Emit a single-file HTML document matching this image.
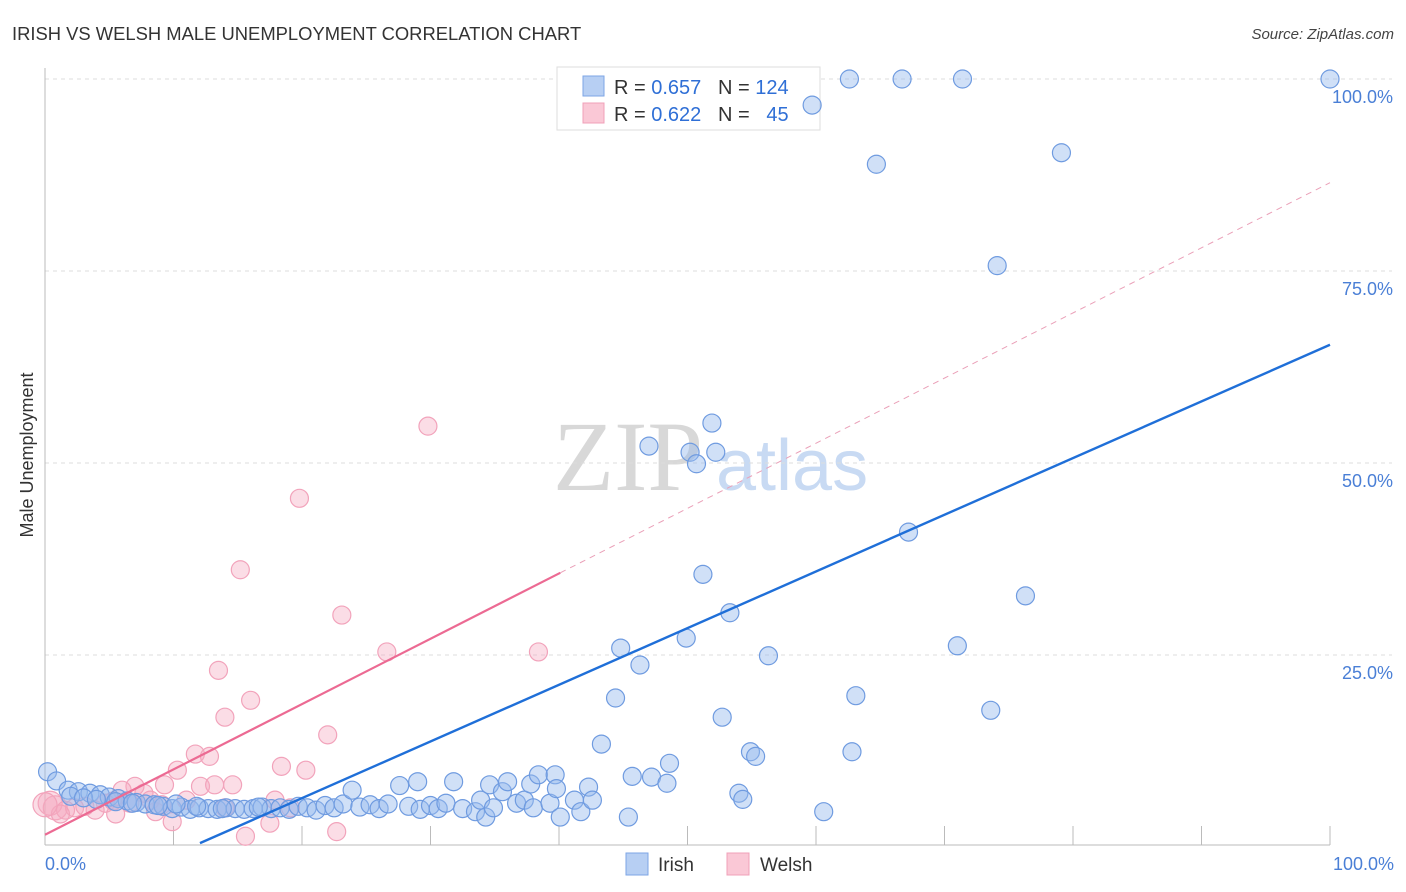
<!DOCTYPE html>
<html><head><meta charset="utf-8"><style>
body{margin:0;background:#fff;font-family:"Liberation Sans",sans-serif}
svg{display:block}
</style></head><body>
<svg id="chart" width="1406" height="892" viewBox="0 0 1406 892" xmlns="http://www.w3.org/2000/svg">
<text x="12" y="40" font-size="18.4" fill="#333">IRISH VS WELSH MALE UNEMPLOYMENT CORRELATION CHART</text>
<text x="1394" y="39" font-size="15" font-style="italic" fill="#444" text-anchor="end">Source: ZipAtlas.com</text>
<g>
<text x="553" y="490" font-family="Liberation Serif,serif" font-size="100" fill="#d8d8d8">ZIP</text>
<text x="716" y="490" font-size="72" fill="#c8daf3">atlas</text>
</g>
<g id="grid"></g>
<g id="axes"></g>
<g>
<rect x="557" y="67" width="263" height="63" fill="#fff" stroke="#ddd"/>
<rect x="583" y="76" width="21" height="20" fill="#b7cff3" stroke="#7ea6e6"/>
<rect x="583" y="103" width="21" height="20" fill="#fac8d6" stroke="#f0a0b8"/>
<text x="614" y="94" font-size="20" fill="#333" xml:space="preserve">R = <tspan fill="#2f6fd6">0.657</tspan>   N = <tspan fill="#2f6fd6">124</tspan></text>
<text x="614" y="121" font-size="20" fill="#333" xml:space="preserve">R = <tspan fill="#2f6fd6">0.622</tspan>   N =  <tspan fill="#2f6fd6"> 45</tspan></text>
</g>
<g id="welsh"></g>
<g id="irish"></g>
<g id="lines"></g>
<text transform="translate(33,455) rotate(-90)" font-size="18" fill="#333" text-anchor="middle">Male Unemployment</text>
<text x="45" y="870" font-size="18" fill="#4a7fd6">0.0%</text>
<text x="1394" y="870" font-size="18" fill="#4a7fd6" text-anchor="end">100.0%</text>
<g>
<rect x="626" y="853" width="22" height="22" fill="#b7cff3" stroke="#7ea6e6"/>
<text x="658" y="871" font-size="19" fill="#333">Irish</text>
<rect x="727" y="853" width="22" height="22" fill="#fac8d6" stroke="#f0a0b8"/>
<text x="760" y="871" font-size="19" fill="#333">Welsh</text>
</g>
</svg>
<script>
const yTicks=[25,50,75,100];
const yTickLabels=["25.0%","50.0%","75.0%","100.0%"];
const xTicks=[10,20,30,40,50,60,70,80,90,100];
const irishX=[100,62.6,66.7,71.4,59.7,64.7,79.1,74.1,51.9,47.0,50.2,52.2,50.7,67.2,51.2,76.3,53.3,49.9,44.8,71.0,56.3,46.3,44.4,63.1,52.7,73.6,43.3,54.9,55.3,62.8,48.6,45.7,47.2,48.4,54.0,54.3,60.6,45.4,
0.2,0.9,1.8,2.6,3.5,4.3,5.0,5.7,6.4,7.1,7.8,8.5,9.2,9.9,10.6,11.3,12.0,12.7,13.4,14.1,14.8,15.5,16.2,16.9,17.6,18.3,19.0,19.7,20.4,21.1,21.8,22.5,23.2,23.9,24.5,25.3,26.0,26.7,27.6,28.3,29.0,29.2,30.0,30.6,31.2,31.8,32.5,33.5,33.9,34.3,34.6,34.9,35.6,36.0,36.7,37.3,37.8,38.0,38.4,39.3,39.7,39.8,40.1,41.2,41.7,42.3,42.6,2.0,3.0,4.0,5.5,6.8,8.8,10.2,11.8,13.8,16.6];
const irishY=[100,100,100,100,96.6,88.9,90.4,75.7,55.2,52.2,51.4,51.4,49.9,41.0,35.5,32.7,30.5,27.2,25.9,26.2,24.9,23.7,19.4,19.7,16.9,17.8,13.4,12.4,11.8,12.4,10.9,9.2,9.1,8.3,7.0,6.2,4.6,3.9,
9.8,8.6,7.4,7.2,7.0,6.8,6.5,6.3,6.0,5.8,5.6,5.5,5.3,5.0,5.2,4.9,5.1,5.0,4.9,5.1,5.0,4.9,5.0,5.2,5.0,5.1,4.9,5.3,5.1,4.8,5.4,5.1,5.6,7.4,5.2,5.5,5.0,5.6,8.0,5.3,8.5,4.9,5.4,5.0,5.7,8.5,5.0,4.6,6.1,3.9,8.1,5.1,7.2,8.5,5.7,6.1,8.2,5.1,9.4,5.7,9.4,7.6,3.9,6.1,4.6,7.8,6.1,6.6,6.4,6.2,5.9,5.7,5.4,5.6,5.3,5.0,5.2];
const welshX=[29.8,19.8,15.2,23.1,26.6,38.4,13.5,16.0,14.0,22.0,11.7,12.8,10.3,18.4,20.3,9.3,12.1,13.2,14.6,7.0,6.0,7.7,8.2,11.0,17.9,0.4,0.8,1.6,2.3,3.1,4.7,5.3,3.9,5.5,9.9,17.5,22.7,15.6,8.6,9.1,6.6,1.2,14.0,19.1,0];
const welshY=[54.8,45.4,36.1,30.2,25.4,25.4,23.0,19.1,16.9,14.6,12.1,11.8,10.0,10.5,10.0,8.1,7.9,8.1,8.1,7.9,7.4,7.0,6.1,6.1,6.1,5.7,5.1,4.8,5.1,5.3,5.7,6.0,4.8,4.3,3.3,3.1,2.0,1.4,4.6,5.5,5.7,4.3,5.1,5.1,5.5];
const irishLine=[[12.06,0.5],[100,65.4]];
const welshLine=[[0,1.6],[40.1,35.7]];
const welshDash=[[40.1,35.7],[100,86.5]];

const NS="http://www.w3.org/2000/svg";
const X=v=>45+v*12.85, Y=v=>847-v*7.68;
function mk(tag,attrs,parent){const e=document.createElementNS(NS,tag);for(const k in attrs)e.setAttribute(k,attrs[k]);document.getElementById(parent).appendChild(e);return e;}
yTicks.forEach((t,i)=>{
 const g=mk('line',{x1:45,x2:1392,y1:Y(t),y2:Y(t),stroke:'#ddd','stroke-dasharray':'4,4'},'grid');
 
 
 const l=mk('text',{x:1393,y:Y(t)+24,'font-size':18,fill:'#4a7fd6','text-anchor':'end'},'grid');
 l.textContent=yTickLabels[i];
 
 
});
let a=mk('line',{x1:45,x2:45,y1:68,y2:845,stroke:'#bbb'},'axes');


a=mk('line',{x1:45,x2:1330,y1:845,y2:845,stroke:'#bbb'},'axes');


xTicks.forEach(t=>{
 const e=mk('line',{x1:X(t),x2:X(t),y1:826,y2:845,stroke:'#bbb'},'axes');
 
 
});
welshX.forEach((v,i)=>{
 const c=mk('circle',{cx:X(v),cy:Y(welshY[i]),r:v<1?12:9,fill:'rgba(246,170,192,0.4)',stroke:'#f2a3bb','stroke-width':1.2},'welsh');
 
 
});
irishX.forEach((v,i)=>{
 const c=mk('circle',{cx:X(v),cy:Y(irishY[i]),r:9,fill:'rgba(150,187,238,0.45)',stroke:'#6f9be0','stroke-width':1.2},'irish');
 
 
});
let ln=mk('line',{x1:X(irishLine[0][0]),y1:Y(irishLine[0][1]),x2:X(irishLine[1][0]),y2:Y(irishLine[1][1]),stroke:'#1f6fd8','stroke-width':2.4},'lines');


ln=mk('line',{x1:X(welshLine[0][0]),y1:Y(welshLine[0][1]),x2:X(welshLine[1][0]),y2:Y(welshLine[1][1]),stroke:'#ec6a93','stroke-width':2.2},'lines');


ln=mk('line',{x1:X(welshDash[0][0]),y1:Y(welshDash[0][1]),x2:X(welshDash[1][0]),y2:Y(welshDash[1][1]),stroke:'#eaa0b8','stroke-width':1,'stroke-dasharray':'6,5'},'lines');


</script>
</body></html>
